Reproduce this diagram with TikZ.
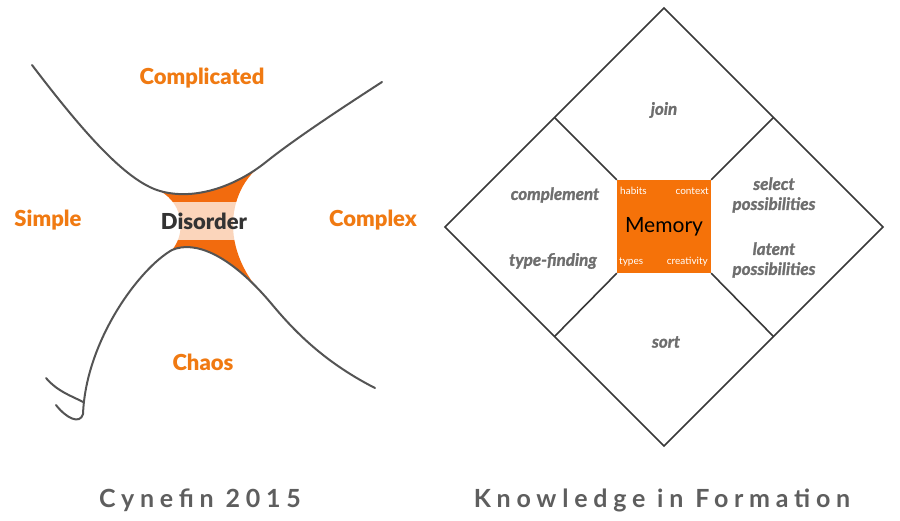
\documentclass[tikz,border=0pt]{standalone}
\usepackage{fontspec}
\setmainfont{Lato}
\newfontfamily\capfont[LetterSpace=23]{Lato Bold}
\newfontfamily\heavyfont{Lato Black}
\newfontfamily\kiffont[FakeBold=1.5]{Lato Bold Italic}
\usepackage{tikz}

\definecolor{cyorange}{HTML}{F07A12}
\definecolor{fillorange}{HTML}{F26B0E}
\definecolor{memorange}{HTML}{F57209}
\definecolor{curvegrey}{HTML}{545454}
\definecolor{labelgrey}{HTML}{6E6E6E}
\definecolor{capgrey}{HTML}{5E5E5E}

\begin{document}
\begin{tikzpicture}[x=1pt,y=-1pt,
    cyname/.style={font=\heavyfont\fontsize{22}{26}\selectfont, text=cyorange},
    curve/.style={draw=curvegrey, line width=2pt, line cap=round},
    frame/.style={draw=black!78, line width=1.6pt},
    kiflabel/.style={font=\kiffont\fontsize{17}{20}\selectfont, text=labelgrey, align=center},
    cornerlabel/.style={font=\fontsize{10}{12}\selectfont, text=white, inner sep=0pt},
    caption/.style={font=\capfont\fontsize{25}{30}\selectfont, text=capgrey}]
  \useasboundingbox (0,0) rectangle (900,520);

  % Cynefin
  \fill[fillorange] (160,191) .. controls (195,201) and (236,186) .. (266,162)
    .. controls (228,185) and (215,250) .. (270,302)
    .. controls (230,255) and (195,240) .. (172,250)
    .. controls (185,235) and (185,205) .. (160,191) -- cycle;
  \draw[curve] (32,65) .. controls (80,128) and (125,181) .. (160,191)
    .. controls (195,201) and (236,186) .. (266,162)
    .. controls (296,138) and (345,106) .. (382,82);
  \draw[curve] (56,405) .. controls (66,418) and (80,425) .. (83,414)
    .. controls (86,340) and (140,268) .. (172,250)
    .. controls (195,240) and (230,255) .. (270,302)
    .. controls (290,326) and (320,360) .. (375,388);
  \draw[curve] (46,378) .. controls (58,392) and (72,396) .. (83,402);

  \node[cyname] (complicated) at (202,78) {Complicated};
  \node[cyname] (simple) at (48,220) {Simple};
  \node[cyname] (complex) at (373,220) {Complex};
  \node[cyname] (chaos) at (203,362) {Chaos};
  \node[font=\heavyfont\fontsize{22}{26}\selectfont, text=black!80, fill=white, fill opacity=0.72,
    text opacity=1, minimum width=93, minimum height=38] (disorder) at (204,221) {Disorder};

  % Knowledge in Formation
  \draw[frame] (664,8) -- (883,227) -- (664,446) -- (445,227) -- cycle;
  \coordinate (ul) at (554.5,117.5);
  \coordinate (ur) at (773.5,117.5);
  \coordinate (ll) at (554.5,336.5);
  \coordinate (lr) at (773.5,336.5);
  \node[fill=memorange, minimum width=94, minimum height=93, inner sep=0pt,
    font=\fontsize{21}{24}\selectfont] (memory) at (664,226.5) {Memory};
  \draw[frame] (ul) -- (memory.north west);
  \draw[frame] (ur) -- (memory.north east);
  \draw[frame] (ll) -- (memory.south west);
  \draw[frame] (lr) -- (memory.south east);

  \node[cornerlabel, anchor=west] (habits) at (620,191) {habits};
  \node[cornerlabel, anchor=east] (context) at (709,191) {context};
  \node[cornerlabel, anchor=west] (types) at (619,262) {types};
  \node[cornerlabel, anchor=east] (creativity) at (708,262) {creativity};

  \node[kiflabel] (join) at (664,110) {join};
  \node[kiflabel] (complement) at (555,195) {complement};
  \node[kiflabel] (typefinding) at (553,261) {type-finding};
  \node[kiflabel] (select) at (774,195) {select\\possibilities};
  \node[kiflabel] (latent) at (774,260) {latent\\possibilities};
  \node[kiflabel] (sort) at (666,342) {sort};

  \node[caption] (cynefin) at (200,500) {Cynefin 2015};
  \node[caption] (formation) at (662,500) {Knowledge in Formation};
\end{tikzpicture}
\end{document}
